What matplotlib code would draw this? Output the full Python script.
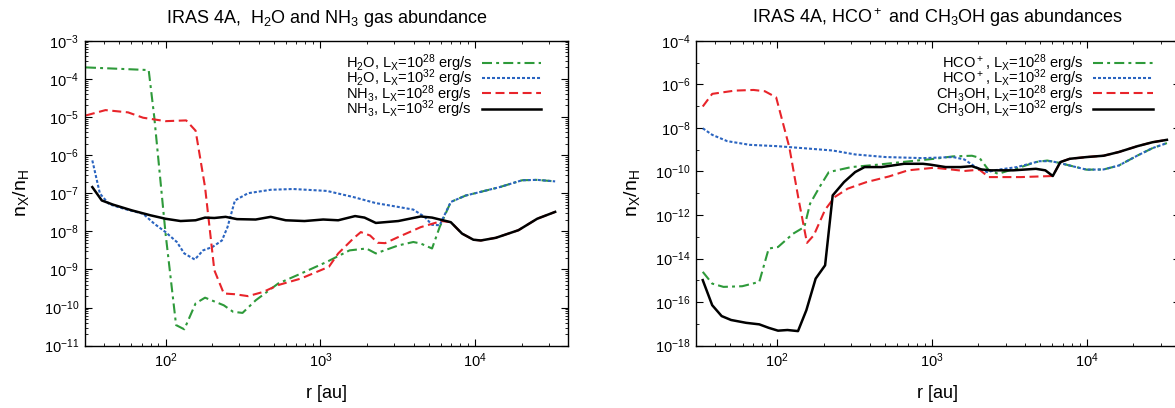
import numpy as np
import matplotlib
matplotlib.use('Agg')
import matplotlib.pyplot as plt
from matplotlib.ticker import LogLocator, NullFormatter

plt.rcParams['font.family'] = ['Liberation Sans', 'DejaVu Sans']
plt.rcParams['mathtext.default'] = 'regular'

# values, as log10(r [au]) and log10(n_X/n_H)
# left panel: H2O and NH3
h2o_28_logr = [1.486, 1.891, 1.927, 2.0, 2.068, 2.121, 2.194, 2.255, 2.376, 2.436, 2.497,
               2.582, 2.727, 2.873, 3.042, 3.188, 3.297, 3.358, 3.503, 3.600, 3.648,
               3.721, 3.770, 3.842, 3.939, 4.0, 4.158, 4.303, 4.40, 4.516]
h2o_28_logn = [-3.70, -3.77, -5.0, -8.06, -10.46, -10.57, -9.89, -9.74, -9.94, -10.11, -10.14,
               -9.81, -9.37, -9.11, -8.80, -8.50, -8.45, -8.58, -8.37, -8.28, -8.32,
               -8.45, -7.89, -7.23, -7.06, -7.0, -6.84, -6.66, -6.65, -6.69]

h2o_32_logr = [1.527, 1.576, 1.636, 1.733, 1.855, 1.927, 2.0, 2.073, 2.121, 2.189, 2.242,
               2.303, 2.364, 2.40, 2.448, 2.533, 2.679, 2.824, 3.042, 3.212, 3.358,
               3.503, 3.600, 3.673, 3.721, 3.770, 3.842, 3.939, 4.0, 4.158, 4.303,
               4.40, 4.516]
h2o_32_logn = [-6.14, -7.01, -7.29, -7.41, -7.54, -7.80, -8.02, -8.28, -8.58, -8.74, -8.50,
               -8.41, -8.24, -7.89, -7.19, -7.0, -6.91, -6.89, -6.94, -7.10, -7.26,
               -7.36, -7.43, -7.62, -7.83, -7.84, -7.23, -7.06, -7.0, -6.84, -6.66,
               -6.65, -6.69]

nh3_28_logr = [1.486, 1.612, 1.758, 1.855, 2.0, 2.133, 2.194, 2.255, 2.315, 2.376, 2.448,
               2.533, 2.630, 2.727, 2.873, 3.055, 3.115, 3.212, 3.261, 3.321, 3.37,
               3.418, 3.503, 3.648, 3.782, 3.842, 3.915, 3.988, 4.036, 4.133, 4.279,
               4.40, 4.516]
nh3_28_logn = [-4.96, -4.82, -4.88, -5.02, -5.11, -5.09, -5.36, -6.84, -9.02, -9.63, -9.65,
               -9.70, -9.59, -9.41, -9.24, -8.93, -8.58, -8.19, -8.02, -8.11, -8.30,
               -8.31, -8.15, -7.89, -7.73, -7.76, -8.06, -8.22, -8.24, -8.17, -7.97,
               -7.67, -7.49]

nh3_32_logr = [1.527, 1.588, 1.661, 1.782, 1.903, 2.0, 2.097, 2.194, 2.255, 2.315, 2.388,
               2.461, 2.582, 2.679, 2.776, 2.897, 3.018, 3.115, 3.224, 3.285, 3.358,
               3.503, 3.648, 3.721, 3.842, 3.915, 3.988, 4.036, 4.133, 4.279, 4.40, 4.516]
nh3_32_logn = [-6.84, -7.19, -7.30, -7.45, -7.58, -7.67, -7.73, -7.71, -7.64, -7.65, -7.62,
               -7.68, -7.69, -7.62, -7.71, -7.73, -7.69, -7.71, -7.60, -7.64, -7.78,
               -7.73, -7.61, -7.64, -7.76, -8.06, -8.22, -8.24, -8.17, -7.97, -7.67, -7.49]

# right panel: HCO+ and CH3OH
hco_28_logr = [1.521, 1.582, 1.655, 1.776, 1.886, 1.947, 2.007, 2.104, 2.177, 2.214, 2.275,
               2.335, 2.481, 2.651, 2.821, 3.016, 3.137, 3.259, 3.307, 3.368, 3.429,
               3.502, 3.575, 3.672, 3.745, 3.818, 3.891, 4.0, 4.109, 4.207, 4.328,
               4.425, 4.518]
hco_28_logn = [-14.61, -15.15, -15.30, -15.27, -15.07, -13.54, -13.47, -12.86, -12.55, -11.48,
               -10.72, -10.03, -9.80, -9.69, -9.56, -9.42, -9.31, -9.28, -9.37, -9.95,
               -10.11, -9.95, -9.80, -9.57, -9.50, -9.60, -9.73, -9.92, -9.91, -9.73,
               -9.27, -8.93, -8.70]

hco_32_logr = [1.521, 1.582, 1.679, 1.825, 2.0, 2.165, 2.360, 2.505, 2.70, 2.943, 3.137,
               3.210, 3.283, 3.356, 3.429, 3.55, 3.696, 3.769, 3.818, 3.891, 4.0, 4.109,
               4.207, 4.328, 4.425, 4.518]
hco_32_logn = [-8.02, -8.32, -8.61, -8.78, -8.84, -8.93, -9.04, -9.22, -9.34, -9.39, -9.34,
               -9.45, -9.80, -10.03, -9.92, -9.80, -9.53, -9.53, -9.60, -9.73, -9.92, -9.91,
               -9.73, -9.27, -8.93, -8.70]

ch3oh_28_logr = [1.521, 1.582, 1.728, 1.849, 1.922, 1.995, 2.080, 2.141, 2.194, 2.238, 2.311,
                 2.372, 2.457, 2.578, 2.724, 2.846, 3.016, 3.137, 3.210, 3.307, 3.368,
                 3.429, 3.575, 3.781, 3.830, 3.891, 4.0, 4.109, 4.207, 4.328, 4.425, 4.518]
ch3oh_28_logn = [-7.02, -6.44, -6.29, -6.26, -6.32, -6.60, -8.89, -11.33, -13.28, -12.93,
                 -11.76, -11.18, -10.79, -10.49, -10.23, -9.95, -9.83, -9.92, -9.98, -9.92,
                 -10.26, -10.26, -10.26, -10.21, -9.57, -9.42, -9.34, -9.28, -9.11, -8.84,
                 -8.66, -8.55]

ch3oh_32_logr = [1.521, 1.582, 1.643, 1.704, 1.801, 1.886, 1.947, 2.007, 2.068, 2.136, 2.190,
                 2.250, 2.311, 2.360, 2.433, 2.505, 2.566, 2.676, 2.821, 2.943, 2.991,
                 3.089, 3.186, 3.259, 3.320, 3.380, 3.526, 3.672, 3.733, 3.781, 3.830,
                 3.891, 4.0, 4.109, 4.207, 4.328, 4.425, 4.518]
ch3oh_32_logn = [-14.99, -16.14, -16.64, -16.82, -16.95, -17.02, -17.18, -17.31, -17.28, -17.33,
                 -16.37, -14.92, -14.31, -11.10, -10.49, -10.03, -9.80, -9.80, -9.65, -9.65,
                 -9.69, -9.80, -9.80, -9.76, -9.91, -9.95, -9.95, -9.88, -9.95, -10.21,
                 -9.57, -9.42, -9.34, -9.28, -9.11, -8.84, -8.66, -8.55]

GREEN = '#2e9a3a'
BLUE = '#2a64c0'
RED = '#e8242a'


def draw(ax, series, labels, ylim, ymajor):
    styles = [dict(color=GREEN, lw=1.5, dashes=(4.8, 2.0, 1.4, 2.0)),
              dict(color=BLUE, lw=1.5, dashes=(1.45, 0.95)),
              dict(color=RED, lw=1.5, dashes=(4.3, 2.2)),
              dict(color='black', lw=1.8)]
    for (lr, ln), lab, st in zip(series, labels, styles):
        ax.plot(10 ** np.array(lr), 10 ** np.array(ln), label=lab, **st)
    ax.set_xscale('log')
    ax.set_yscale('log')
    ax.set_xlim(30, 4e4)
    ax.set_ylim(*ylim)
    ax.xaxis.set_major_locator(LogLocator(base=10, numticks=10))
    ax.xaxis.set_minor_locator(LogLocator(base=10, subs=np.arange(2, 10), numticks=20))
    ax.xaxis.set_minor_formatter(NullFormatter())
    if ymajor == 1:
        ax.yaxis.set_major_locator(LogLocator(base=10, numticks=20))
        ax.yaxis.set_minor_locator(LogLocator(base=10, subs=np.arange(2, 10), numticks=20))
    else:
        ax.yaxis.set_major_locator(LogLocator(base=100, numticks=20))
        ax.yaxis.set_minor_locator(LogLocator(base=100, subs=[10], numticks=20))
    ax.yaxis.set_minor_formatter(NullFormatter())
    ax.tick_params(which='both', direction='in', top=True, right=True, labelsize=10.5)
    ax.tick_params(which='major', length=4.8, width=0.8, pad=4)
    ax.tick_params(which='minor', length=2.4, width=0.6)
    for s in ax.spines.values():
        s.set_linewidth(1.0)
    ax.set_xlabel('r [au]', fontsize=13, labelpad=11)
    ax.set_ylabel('n$_X$/n$_H$', fontsize=14, labelpad=9)
    ax.legend(loc='upper right', bbox_to_anchor=(0.944, 0.962), frameon=False,
              markerfirst=False, fontsize=10.5, handlelength=4.1, handletextpad=0.64,
              labelspacing=-0.43, borderaxespad=0, borderpad=0)


fig = plt.figure(figsize=(11.75, 4.08), dpi=100)
ax1 = fig.add_axes([0.072, 0.1527, 0.4118, 0.7475])
ax2 = fig.add_axes([0.5923, 0.1527, 0.4119, 0.7475])

draw(ax1,
     [(h2o_28_logr, h2o_28_logn), (h2o_32_logr, h2o_32_logn),
      (nh3_28_logr, nh3_28_logn), (nh3_32_logr, nh3_32_logn)],
     ['H$_2$O, L$_X$=10$^{28}$ erg/s', 'H$_2$O, L$_X$=10$^{32}$ erg/s',
      'NH$_3$, L$_X$=10$^{28}$ erg/s', 'NH$_3$, L$_X$=10$^{32}$ erg/s'],
     (1e-11, 1e-3), 1)
ax1.set_title('IRAS 4A,  H$_2$O and NH$_3$ gas abundance', fontsize=13, pad=13)

draw(ax2,
     [(hco_28_logr, hco_28_logn), (hco_32_logr, hco_32_logn),
      (ch3oh_28_logr, ch3oh_28_logn), (ch3oh_32_logr, ch3oh_32_logn)],
     ['HCO$^+$, L$_X$=10$^{28}$ erg/s', 'HCO$^+$, L$_X$=10$^{32}$ erg/s',
      'CH$_3$OH, L$_X$=10$^{28}$ erg/s', 'CH$_3$OH, L$_X$=10$^{32}$ erg/s'],
     (1e-18, 1e-4), 2)
ax2.set_title('IRAS 4A, HCO$^+$ and CH$_3$OH gas abundances', fontsize=13, pad=13)

fig.savefig('out.png', dpi=100)
